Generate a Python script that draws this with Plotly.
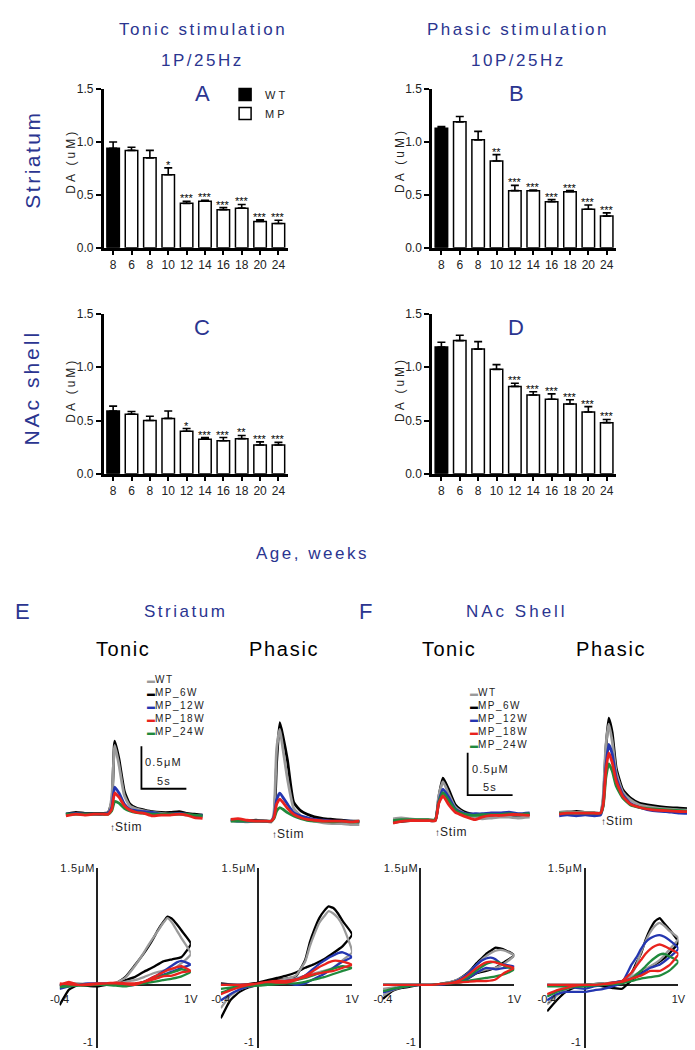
import plotly.graph_objects as go

W, H = 695, 1050
NAVY = "#2b3590"
FONT = "Liberation Sans, Arial, sans-serif"

# ---------------- bar chart data ----------------
AGE_LABELS = ["8", "6", "8", "10", "12", "14", "16", "18", "20", "24"]

A_MEAN = [0.94, 0.92, 0.85, 0.69, 0.42, 0.44, 0.36, 0.375, 0.25, 0.23]
A_ERR = [0.06, 0.03, 0.07, 0.065, 0.02, 0.01, 0.02, 0.035, 0.015, 0.03]
A_SIG = ["", "", "", "*", "***", "***", "***", "***", "***", "***"]

B_MEAN = [1.13, 1.19, 1.02, 0.82, 0.54, 0.54, 0.435, 0.53, 0.365, 0.30]
B_ERR = [0.015, 0.05, 0.08, 0.06, 0.05, 0.005, 0.02, 0.01, 0.04, 0.03]
B_SIG = ["", "", "", "**", "***", "***", "***", "***", "***", "***"]

C_MEAN = [0.59, 0.56, 0.50, 0.52, 0.40, 0.325, 0.31, 0.33, 0.27, 0.27]
C_ERR = [0.045, 0.025, 0.04, 0.07, 0.025, 0.015, 0.03, 0.03, 0.03, 0.025]
C_SIG = ["", "", "", "", "*", "***", "***", "**", "***", "***"]

D_MEAN = [1.19, 1.25, 1.17, 0.98, 0.82, 0.74, 0.70, 0.655, 0.58, 0.48]
D_ERR = [0.045, 0.05, 0.07, 0.045, 0.03, 0.03, 0.05, 0.04, 0.05, 0.03]
D_SIG = ["", "", "", "", "***", "***", "***", "***", "***", "***"]

# ---------------- series (legend) ----------------
SERIES = ["WT", "MP_6W", "MP_12W", "MP_18W", "MP_24W"]
COLORS = {"WT": "#9a9a9a", "MP_6W": "#000000", "MP_12W": "#2436b0",
          "MP_18W": "#e8231e", "MP_24W": "#1f8a3c"}
DRAW_ORDER = ["MP_6W", "WT", "MP_12W", "MP_24W", "MP_18W"]

# ---------------- DA traces (time s, concentration uM) ----------------
E_TON_T = [-5.1, -4, -3, -2, -1, -0.4, 0, 0.33, 0.8, 1.4, 2.0, 2.8, 3.6, 4.5, 5.5, 6.5, 7.5, 8.3, 9.2, 10.1]
E_TON = {
    "MP_6W": [0.0, 0.02, 0.01, 0.01, 0.01, 0.02, 0.15, 0.86, 0.65, 0.27, 0.12, 0.07, 0.05, 0.03, 0.02, 0.02, 0.03, 0.01, 0.0, -0.01],
    "WT": [-0.01, 0.0, 0.0, 0.0, 0.0, 0.01, 0.2, 0.81, 0.58, 0.22, 0.10, 0.06, 0.04, 0.02, 0.01, 0.0, 0.0, -0.01, -0.02, -0.03],
    "MP_12W": [0.0, 0.01, 0.0, 0.0, 0.0, 0.01, 0.08, 0.32, 0.25, 0.12, 0.06, 0.04, 0.03, 0.02, 0.0, 0.0, 0.01, 0.0, -0.02, -0.01],
    "MP_18W": [-0.02, 0.0, -0.01, 0.0, 0.0, 0.0, 0.06, 0.25, 0.20, 0.10, 0.05, 0.02, 0.01, -0.02, -0.01, -0.01, 0.0, -0.01, -0.04, -0.05],
    "MP_24W": [0.0, 0.0, 0.0, 0.0, 0.0, 0.0, 0.04, 0.15, 0.13, 0.07, 0.04, 0.02, 0.01, 0.0, 0.0, 0.0, 0.0, 0.0, -0.01, -0.02],
}
E_PHA_T = [-4.8, -4, -3, -2, -1, -0.3, 0, 0.3, 0.65, 1.0, 1.5, 2.2, 3, 3.7, 4.5, 5.5, 6.5, 7.5, 8.5, 9.5]
E_PHA = {
    "MP_6W": [0.02, 0.01, 0.0, 0.01, 0.0, 0.0, 0.05, 0.7, 1.16, 1.0, 0.72, 0.22, 0.12, 0.08, 0.05, 0.03, 0.02, 0.01, 0.0, 0.0],
    "WT": [0.0, 0.0, -0.01, 0.0, 0.0, -0.01, 0.1, 0.85, 1.08, 0.85, 0.5, 0.15, 0.06, 0.02, 0.0, -0.02, -0.03, -0.03, -0.04, -0.04],
    "MP_12W": [0.01, 0.0, 0.0, 0.0, 0.0, 0.0, 0.05, 0.25, 0.33, 0.28, 0.20, 0.10, 0.06, 0.04, 0.02, 0.01, 0.0, 0.0, 0.0, -0.01],
    "MP_18W": [0.02, 0.03, 0.01, 0.0, 0.0, 0.0, 0.04, 0.20, 0.26, 0.22, 0.15, 0.08, 0.04, 0.02, 0.01, 0.0, 0.0, 0.0, -0.01, 0.0],
    "MP_24W": [0.0, 0.0, 0.0, 0.0, 0.0, 0.0, 0.03, 0.12, 0.16, 0.14, 0.10, 0.06, 0.03, 0.01, 0.0, 0.0, -0.01, 0.0, -0.01, -0.01],
}
F_TON_T = [-4.9, -4, -3, -2, -1, -0.2, 0.18, 0.65, 1.27, 2.0, 2.6, 3.3, 4.2, 5.0, 6.0, 7.0, 8.0, 9.0, 10.3]
F_TON = {
    "MP_6W": [-0.06, -0.05, -0.04, -0.04, -0.04, -0.04, 0.23, 0.46, 0.33, 0.15, 0.09, 0.05, 0.03, 0.02, 0.02, 0.03, 0.02, 0.02, 0.03],
    "WT": [-0.02, -0.01, -0.02, -0.03, -0.03, -0.03, 0.25, 0.42, 0.28, 0.12, 0.07, 0.03, 0.0, -0.02, -0.01, 0.0, 0.0, -0.01, 0.0],
    "MP_12W": [-0.05, -0.04, -0.04, -0.04, -0.04, -0.03, 0.18, 0.33, 0.24, 0.10, 0.06, 0.04, 0.04, 0.04, 0.05, 0.05, 0.06, 0.04, 0.05],
    "MP_18W": [-0.07, -0.05, -0.04, -0.04, -0.04, -0.04, 0.16, 0.25, 0.15, 0.06, 0.03, 0.0, -0.03, 0.0, 0.02, 0.02, 0.03, 0.03, 0.02],
    "MP_24W": [-0.04, -0.03, -0.03, -0.03, -0.03, -0.03, 0.17, 0.29, 0.20, 0.09, 0.05, 0.03, 0.02, 0.03, 0.03, 0.03, 0.04, 0.03, 0.04],
}
F_PHA_T = [-4.9, -4, -3, -2, -1, -0.3, 0, 0.3, 0.62, 1.0, 1.45, 2.17, 3.0, 4.0, 5.5, 7.0, 8.5, 10.1]
F_PHA = {
    "MP_6W": [0.0, 0.01, 0.02, 0.01, 0.0, 0.0, 0.15, 0.75, 1.12, 0.95, 0.53, 0.28, 0.18, 0.12, 0.09, 0.07, 0.06, 0.05],
    "WT": [0.01, 0.02, 0.01, 0.01, 0.01, 0.0, 0.2, 0.8, 1.05, 0.85, 0.48, 0.25, 0.16, 0.10, 0.07, 0.05, 0.04, 0.03],
    "MP_12W": [-0.03, -0.02, -0.03, -0.02, -0.03, -0.02, 0.1, 0.55, 0.81, 0.70, 0.42, 0.22, 0.12, 0.07, 0.03, 0.02, 0.0, 0.0],
    "MP_18W": [-0.01, 0.0, 0.0, 0.0, 0.0, 0.0, 0.1, 0.50, 0.71, 0.60, 0.38, 0.20, 0.11, 0.07, 0.04, 0.03, 0.02, 0.02],
    "MP_24W": [0.0, 0.0, 0.0, 0.0, 0.0, 0.0, 0.08, 0.42, 0.58, 0.50, 0.32, 0.18, 0.10, 0.07, 0.05, 0.04, 0.03, 0.02],
}
SCALE_UM = 0.5
SCALE_S = 5.0

# ---------------- cyclic voltammograms (V, current in uM units) ----------------
CV_V = [-0.4, -0.3, -0.2, -0.1, 0.0, 0.1, 0.2, 0.3, 0.4, 0.5, 0.55, 0.6, 0.65, 0.7, 0.75, 0.8, 0.85, 0.9, 1.0,
        0.9, 0.8, 0.7, 0.6, 0.5, 0.4, 0.3, 0.2, 0.1, 0.0, -0.2, -0.4]
CV_E_TON = {
    "MP_6W": [-0.26, -0.06, 0.0, 0.0, 0.0, 0.01, 0.02, 0.10, 0.25, 0.41, 0.50, 0.60, 0.71, 0.80, 0.88, 0.85, 0.78, 0.70, 0.53,
              0.36, 0.33, 0.30, 0.23, 0.17, 0.10, 0.06, 0.02, 0.0, -0.02, 0.0, 0.0],
    "WT": [-0.02, 0.02, 0.02, 0.01, 0.0, 0.01, 0.03, 0.09, 0.24, 0.42, 0.52, 0.61, 0.70, 0.79, 0.86, 0.80, 0.70, 0.60, 0.40,
           0.28, 0.20, 0.18, 0.15, 0.10, 0.06, 0.04, 0.01, 0.0, 0.0, 0.01, 0.0],
    "MP_12W": [-0.05, -0.02, 0.0, 0.02, 0.02, 0.02, 0.01, -0.01, 0.0, 0.04, 0.07, 0.10, 0.13, 0.17, 0.21, 0.25, 0.29, 0.31, 0.26,
               0.22, 0.17, 0.13, 0.08, 0.04, 0.01, 0.0, 0.0, 0.01, 0.01, 0.0, 0.0],
    "MP_18W": [0.0, 0.04, 0.0, 0.0, 0.01, 0.02, 0.02, 0.01, 0.0, 0.04, 0.07, 0.10, 0.13, 0.16, 0.19, 0.21, 0.23, 0.24, 0.18,
               0.16, 0.12, 0.11, 0.07, 0.04, 0.02, 0.02, 0.03, 0.02, 0.02, 0.0, 0.02],
    "MP_24W": [-0.03, -0.02, 0.0, 0.0, 0.0, 0.0, 0.0, 0.0, 0.01, 0.04, 0.06, 0.08, 0.10, 0.12, 0.14, 0.16, 0.18, 0.20, 0.17,
               0.11, 0.08, 0.06, 0.04, 0.02, 0.0, -0.02, -0.01, 0.0, 0.0, -0.01, -0.02],
}
CV_E_PHA = {
    "MP_6W": [-0.43, -0.20, -0.09, -0.03, 0.0, 0.03, 0.06, 0.08, 0.11, 0.32, 0.55, 0.72, 0.86, 0.95, 1.01, 0.99, 0.92, 0.82, 0.65,
              0.50, 0.41, 0.33, 0.27, 0.22, 0.16, 0.12, 0.09, 0.06, 0.03, 0.0, 0.02],
    "WT": [-0.30, -0.14, -0.06, -0.02, 0.0, 0.02, 0.05, 0.08, 0.12, 0.30, 0.50, 0.66, 0.80, 0.88, 0.95, 0.92, 0.86, 0.76, 0.42,
           0.32, 0.22, 0.18, 0.15, 0.12, 0.08, 0.06, 0.04, 0.02, 0.0, 0.0, 0.0],
    "MP_12W": [-0.20, -0.12, -0.06, -0.02, 0.0, 0.02, 0.04, 0.05, 0.07, 0.12, 0.17, 0.22, 0.27, 0.31, 0.35, 0.38, 0.41, 0.42, 0.36,
               0.30, 0.22, 0.14, 0.08, 0.02, 0.0, 0.03, 0.03, 0.02, 0.0, 0.0, 0.0],
    "MP_18W": [-0.12, -0.07, -0.03, 0.0, 0.02, 0.04, 0.03, 0.03, 0.06, 0.12, 0.15, 0.19, 0.23, 0.26, 0.29, 0.31, 0.31, 0.30, 0.26,
               0.22, 0.18, 0.16, 0.14, 0.10, 0.07, 0.05, 0.05, 0.04, 0.02, 0.0, 0.0],
    "MP_24W": [-0.10, -0.06, -0.03, -0.01, 0.0, 0.02, 0.03, 0.04, 0.06, 0.09, 0.11, 0.13, 0.15, 0.17, 0.19, 0.21, 0.23, 0.24, 0.22,
               0.18, 0.14, 0.10, 0.07, 0.04, 0.02, 0.02, 0.01, 0.0, -0.01, -0.02, -0.05],
}
CV_F_TON = {
    "MP_6W": [-0.18, -0.08, -0.04, -0.02, 0.0, 0.0, 0.01, 0.03, 0.07, 0.15, 0.21, 0.28, 0.34, 0.40, 0.44, 0.48, 0.47, 0.45, 0.38,
              0.30, 0.22, 0.18, 0.15, 0.08, 0.05, 0.03, 0.01, 0.0, 0.0, 0.0, 0.0],
    "WT": [-0.14, -0.07, -0.03, -0.01, 0.0, 0.0, 0.01, 0.03, 0.07, 0.14, 0.20, 0.26, 0.32, 0.37, 0.41, 0.44, 0.45, 0.44, 0.38,
           0.28, 0.22, 0.20, 0.16, 0.09, 0.05, 0.03, 0.01, 0.0, 0.0, -0.02, -0.05],
    "MP_12W": [-0.10, -0.06, -0.03, -0.01, 0.0, 0.0, 0.0, 0.02, 0.06, 0.14, 0.20, 0.26, 0.31, 0.34, 0.35, 0.33, 0.28, 0.26, 0.24,
               0.22, 0.20, 0.22, 0.16, 0.08, 0.04, 0.02, 0.01, 0.0, 0.0, 0.0, 0.0],
    "MP_18W": [0.0, 0.0, 0.0, 0.0, 0.0, 0.0, 0.01, 0.02, 0.05, 0.12, 0.17, 0.22, 0.26, 0.29, 0.30, 0.29, 0.27, 0.25, 0.22,
               0.16, 0.07, 0.05, 0.05, 0.04, 0.03, 0.02, 0.01, 0.0, 0.0, 0.0, 0.0],
    "MP_24W": [-0.08, -0.05, -0.03, -0.01, 0.0, 0.0, 0.01, 0.02, 0.05, 0.10, 0.14, 0.19, 0.23, 0.27, 0.29, 0.30, 0.28, 0.24, 0.20,
               0.14, 0.11, 0.09, 0.07, 0.05, 0.03, 0.02, 0.01, 0.0, 0.0, 0.0, 0.0],
}
CV_F_PHA = {
    "MP_6W": [-0.34, -0.20, -0.09, -0.03, 0.0, 0.01, 0.02, 0.03, 0.05, 0.15, 0.28, 0.40, 0.58, 0.72, 0.82, 0.86, 0.79, 0.72, 0.55,
              0.40, 0.30, 0.23, 0.15, 0.06, -0.05, -0.04, -0.02, 0.0, 0.0, 0.0, 0.0],
    "WT": [-0.25, -0.14, -0.06, -0.02, 0.0, 0.01, 0.02, 0.03, 0.05, 0.14, 0.25, 0.42, 0.56, 0.68, 0.76, 0.80, 0.76, 0.70, 0.60,
           0.45, 0.32, 0.24, 0.18, 0.10, 0.05, 0.03, 0.01, 0.0, 0.0, 0.0, 0.0],
    "MP_12W": [-0.20, -0.12, -0.09, -0.09, -0.09, -0.07, -0.05, -0.02, 0.03, 0.26, 0.35, 0.46, 0.55, 0.60, 0.63, 0.64, 0.62, 0.58, 0.47,
               0.35, 0.26, 0.22, 0.14, 0.08, 0.05, 0.03, 0.0, -0.02, -0.05, -0.02, 0.0],
    "MP_18W": [-0.12, -0.07, -0.04, -0.01, 0.0, 0.0, 0.01, 0.02, 0.05, 0.16, 0.24, 0.32, 0.40, 0.46, 0.50, 0.52, 0.50, 0.47, 0.40,
               0.25, 0.18, 0.18, 0.12, 0.08, 0.04, 0.03, 0.01, 0.0, 0.0, 0.0, 0.0],
    "MP_24W": [-0.15, -0.09, -0.05, -0.02, 0.0, 0.0, 0.01, 0.02, 0.04, 0.08, 0.13, 0.18, 0.24, 0.30, 0.35, 0.39, 0.40, 0.37, 0.30,
               0.18, 0.12, 0.10, 0.08, 0.05, 0.02, 0.01, 0.0, -0.01, -0.02, -0.02, -0.02],
}

# ---------------- helpers ----------------
def dx(a, b):
    return [a / W, b / W]


def dy(top, bot):
    return [1 - bot / H, 1 - top / H]


def ax_names(i):
    return ("x" if i == 1 else f"x{i}"), ("y" if i == 1 else f"y{i}"), \
           ("xaxis" if i == 1 else f"xaxis{i}"), ("yaxis" if i == 1 else f"yaxis{i}")


def sp(text, ls):
    return f"<span style='letter-spacing:{ls}px'>{text}</span>"


fig = go.Figure()
layout = {}
annotations = []


def note(x, y, text, size, color="black", angle=0, xanchor="center", yanchor="middle", ls=0, align="center"):
    annotations.append(dict(x=x / W, y=1 - y / H, xref="paper", yref="paper", text=sp(text, ls) if ls else text,
                            showarrow=False, textangle=angle, xanchor=xanchor, yanchor=yanchor, align=align,
                            font=dict(size=size, color=color, family=FONT)))


# ---------------- bar panels ----------------
bar_panels = [
    (A_MEAN, A_ERR, A_SIG, (89, 277), (75, 236)),
    (B_MEAN, B_ERR, B_SIG, (425, 613), (75, 236)),
    (C_MEAN, C_ERR, C_SIG, (89, 277), (303, 465)),
    (D_MEAN, D_ERR, D_SIG, (425, 613), (303, 465)),
]
for i, (mean, err, sig, xb, yb) in enumerate(bar_panels, start=1):
    xr, yr, xk, yk = ax_names(i)
    idx = list(range(len(mean)))
    fig.add_trace(go.Bar(x=idx[:1], y=mean[:1], width=0.68, name=sp("WT", 3),
                         marker=dict(color="black", line=dict(color="black", width=1.5)),
                         error_y=dict(type="data", symmetric=False, array=err[:1], arrayminus=[0],
                                      color="black", thickness=1.6, width=4),
                         xaxis=xr, yaxis=yr, showlegend=(i == 1), legendgroup="wt"))
    fig.add_trace(go.Bar(x=idx[1:], y=mean[1:], width=0.68, name=sp("MP", 3),
                         marker=dict(color="white", line=dict(color="black", width=1.5)),
                         error_y=dict(type="data", symmetric=False, array=err[1:], arrayminus=[0] * 9,
                                      color="black", thickness=1.6, width=4),
                         xaxis=xr, yaxis=yr, showlegend=(i == 1), legendgroup="mp"))
    for j, s in enumerate(sig):
        if s:
            annotations.append(dict(x=j, y=mean[j] + err[j], xref=xr, yref=yr, text=s, showarrow=False,
                                    yanchor="bottom", yshift=-5, font=dict(size=11, color="#000000", family=FONT)))
    layout[xk] = dict(domain=dx(*xb), anchor=yr, range=[-0.5, len(mean) - 0.5], tickvals=idx, ticktext=AGE_LABELS,
                      showline=True, linewidth=3, linecolor="black", ticks="outside", ticklen=4, tickwidth=1.5,
                      tickcolor="black", showgrid=False, zeroline=False,
                      tickfont=dict(size=12, color="#222", family=FONT))
    layout[yk] = dict(domain=dy(*yb), anchor=xr, range=[0, 1.5], tickvals=[0, 0.5, 1.0, 1.5], tickformat=".1f",
                      showline=True, linewidth=3, linecolor="black", ticks="outside", ticklen=5, tickwidth=2,
                      tickcolor="black", showgrid=False, zeroline=False,
                      tickfont=dict(size=12, color="#222", family=FONT))

# ---------------- DA trace panels ----------------
PX_S, PX_UM = 9.2, 86.0
trace_panels = [
    (E_TON_T, E_TON, 97, 810, (40, 200), True),
    (E_PHA_T, E_PHA, 263, 817, (205, 355), False),
    (F_TON_T, F_TON, 430, 813, (375, 535), True),
    (F_PHA_T, F_PHA, 600, 809, (545, 695), False),
]
stim_y = [832, 839, 837, 826]
scale_origin = [(3.3, 0.30), (3.4, 0.26)]
k_scale = 0
for n, (tt, vals, stim_px, base_py, xb, has_scale) in enumerate(trace_panels):
    i = 5 + n
    xr, yr, xk, yk = ax_names(i)
    top, bot = 680, 850
    for s in DRAW_ORDER:
        fig.add_trace(go.Scatter(x=tt, y=vals[s], mode="lines",
                                 line=dict(color=COLORS[s], width=2.8, shape="spline", smoothing=0.5),
                                 xaxis=xr, yaxis=yr, showlegend=False, name=s))
    layout[xk] = dict(domain=dx(*xb), anchor=yr, visible=False,
                      range=[(xb[0] - stim_px) / PX_S, (xb[1] - stim_px) / PX_S])
    layout[yk] = dict(domain=dy(top, bot), anchor=xr, visible=False,
                      range=[(base_py - bot) / PX_UM, (base_py - top) / PX_UM])
    annotations.append(dict(x=0, y=1 - stim_y[n] / H, xref=xr, yref="paper", showarrow=False, xanchor="left", xshift=-4,
                            text="<span style='font-size:10px'><b>↑</b></span>" + sp("Stim", 0.8),
                            font=dict(size=12, color="#222", family=FONT)))
    if has_scale:
        t0, v0 = scale_origin[k_scale]
        k_scale += 1
        fig.add_trace(go.Scatter(x=[t0, t0, t0 + SCALE_S], y=[v0 + SCALE_UM, v0, v0], mode="lines",
                                 line=dict(color="black", width=1.8), xaxis=xr, yaxis=yr, showlegend=False, hoverinfo="skip"))
        annotations.append(dict(x=t0, y=v0 + SCALE_UM * 0.62, xref=xr, yref=yr, showarrow=False, xanchor="left", xshift=2,
                                text=sp("0.5μM", 1.2), font=dict(size=11, color="#222", family=FONT)))
        annotations.append(dict(x=t0 + SCALE_S / 2, y=v0, xref=xr, yref=yr, showarrow=False, yanchor="bottom", yshift=0,
                                text=sp("5s", 1.2), font=dict(size=11, color="#222", family=FONT)))

# ---------------- CV panels ----------------
cv_panels = [(CV_E_TON, 82), (CV_E_PHA, 247), (CV_F_TON, 413), (CV_F_PHA, 581)]
PX_V = 96.0
CV_TOP, CV_ZERO, CV_BOT = 865, 983, 1047
PX_CV = 78.7
for n, (vals, x0) in enumerate(cv_panels):
    i = 9 + n
    xr, yr, xk, yk = ax_names(i)
    for s in DRAW_ORDER:
        fig.add_trace(go.Scatter(x=CV_V, y=vals[s], mode="lines",
                                 line=dict(color=COLORS[s], width=2.3, shape="spline", smoothing=0.4),
                                 xaxis=xr, yaxis=yr, showlegend=False, name=s))
    vmin, vmax = -0.4, 1.0
    ytop = (CV_ZERO - CV_TOP) / PX_CV
    ybot = (CV_ZERO - CV_BOT) / PX_CV
    layout[xk] = dict(domain=dx(x0 + vmin * PX_V, x0 + vmax * PX_V), anchor="free", position=1 - CV_ZERO / H,
                      range=[vmin, vmax], showgrid=False, showline=False, ticks="", zeroline=True,
                      zerolinecolor="#222", zerolinewidth=1.6, tickvals=[vmin, vmax], ticktext=["-0.4", "1V"],
                      ticklabelstandoff=6, tickfont=dict(size=11, color="#222", family=FONT))
    layout[yk] = dict(domain=dy(CV_TOP, CV_BOT), anchor="free", position=x0 / W,
                      range=[ybot, ytop], showgrid=False, showline=False, ticks="", zeroline=True,
                      zerolinecolor="#222", zerolinewidth=1.6, tickvals=[ytop],
                      ticktext=[sp("1.5μM", 0.8)], ticklabelstandoff=2,
                      tickfont=dict(size=11, color="#222", family=FONT))
    annotations.append(dict(x=0, y=1 - 1041 / H, xref=xr, yref="paper", showarrow=False, xanchor="right", xshift=-2,
                            yanchor="middle", text="-1", font=dict(size=11, color="#222", family=FONT)))

# ---------------- text ----------------
note(190, 15, "Tonic stimulation", 17, NAVY, ls=2.5)
note(190, 46, "1P/25Hz", 17, NAVY, ls=2.5)
note(513, 15, "Phasic stimulation", 17, NAVY, ls=2.5)
note(513, 46, "10P/25Hz", 17, NAVY, ls=2.5)
note(190, 80, "A", 22, NAVY)
note(511, 80, "B", 22, NAVY)
note(189, 317, "C", 22, NAVY)
note(511, 317, "D", 22, NAVY)
note(15, 147, "Striatum", 21, NAVY, angle=-90, ls=2.5)
note(15, 378, "NAc shell", 21, NAVY, angle=-90, ls=3)
for (xx, yy) in [(55, 148), (392, 147), (55, 380), (392, 379)]:
    note(xx, yy, "DA (uM)", 12, "#222", angle=-90, ls=3)
note(302, 546, "Age, weeks", 17, NAVY, ls=2.5)

note(6, 605, "E", 22, NAVY)
note(172, 605, "Striatum", 17, NAVY, ls=2.5)
note(109, 643, "Tonic", 20, "black", ls=1.5)
note(273, 643, "Phasic", 20, "black", ls=1.7)
note(357, 605, "F", 22, NAVY)
note(512, 605, "NAc Shell", 17, NAVY, ls=3)
note(442, 643, "Tonic", 20, "black", ls=1.5)
note(608, 643, "Phasic", 20, "black", ls=1.7)

# series legends for E and F (one multi-line block each)
legend_lines = "<br>".join(
    f"<span style='color:{COLORS[s]};font-size:8px'>▬</span>" + sp(s, 1.5) for s in SERIES)
for (lx, ly_top) in [(131, 666), (462, 679)]:
    annotations.append(dict(x=lx / W, y=1 - ly_top / H, xref="paper", yref="paper", text=legend_lines,
                            showarrow=False, xanchor="left", yanchor="top", align="left",
                            font=dict(size=10, color="#222", family=FONT)))

layout_all = dict(
    width=W, height=H, margin=dict(l=0, r=0, t=0, b=0), autosize=False,
    paper_bgcolor="white", plot_bgcolor="rgba(0,0,0,0)",
    font=dict(family=FONT, color="#222"),
    barmode="overlay",
    showlegend=True,
    legend=dict(x=213 / W, y=1 - 66 / H, xanchor="left", yanchor="top", bgcolor="rgba(0,0,0,0)",
                font=dict(size=11, color="#222", family=FONT), tracegroupgap=0, itemwidth=30),
    annotations=annotations,
)
layout_all.update(layout)
fig.update_layout(**layout_all)
fig.write_html("out.html")
